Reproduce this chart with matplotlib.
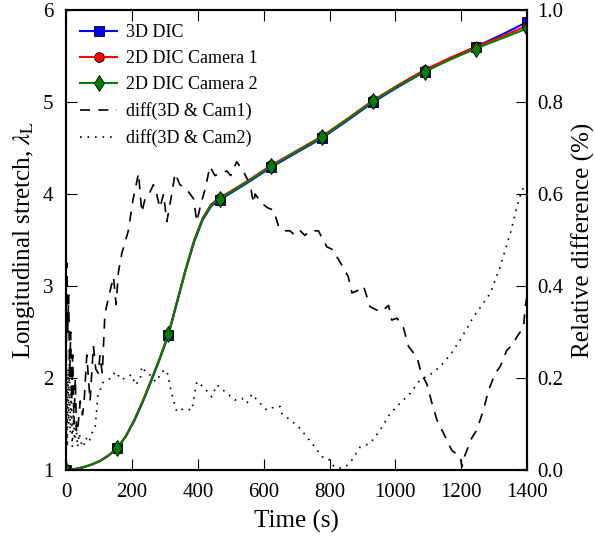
import matplotlib.pyplot as plt

plt.rcParams['font.family'] = ['Liberation Serif', 'DejaVu Serif']
plt.rcParams['mathtext.fontset'] = 'stix'

# stretch curves (left axis)
t = [0, 26, 52, 78, 104, 130, 156, 182, 208, 233, 259, 285, 311, 337, 363, 389,
     415, 441, 467, 500, 550, 622, 700, 778, 855, 933, 1011, 1089, 1166, 1244, 1322, 1400]
dic3d = [1.00, 1.01, 1.03, 1.06, 1.10, 1.16, 1.24, 1.37, 1.54, 1.74, 1.97, 2.21, 2.47, 2.82, 3.17, 3.48,
         3.72, 3.87, 3.94, 4.01, 4.12, 4.29, 4.45, 4.61, 4.80, 5.00, 5.17, 5.33, 5.47, 5.60, 5.73, 5.87]
cam1 = [1.00, 1.01, 1.03, 1.06, 1.10, 1.16, 1.24, 1.37, 1.55, 1.75, 1.98, 2.22, 2.48, 2.83, 3.18, 3.50,
        3.74, 3.89, 3.96, 4.03, 4.14, 4.31, 4.47, 4.63, 4.82, 5.02, 5.19, 5.35, 5.48, 5.60, 5.71, 5.83]
cam2 = [1.00, 1.01, 1.03, 1.06, 1.10, 1.16, 1.24, 1.37, 1.55, 1.75, 1.98, 2.22, 2.48, 2.83, 3.18, 3.49,
        3.73, 3.88, 3.95, 4.02, 4.13, 4.30, 4.46, 4.62, 4.81, 5.01, 5.18, 5.33, 5.46, 5.58, 5.69, 5.80]
marker_idx = [0, 6, 12, 18, 21, 23, 25, 27, 29, 31]

# relative differences (right axis)
t_d1 = [0, 2, 5, 8, 11, 14, 17, 20, 24, 28, 32, 37, 43, 50, 55, 63, 68, 73, 83, 90, 98, 103,
        110, 118, 134, 144, 152, 159, 169, 189, 204, 220, 230, 240, 252, 265, 275, 285, 296,
        306, 321, 331, 346, 366, 387, 397, 410, 422, 437, 452, 468, 488, 500, 518, 538, 559,
        569, 574, 594, 612, 630, 645, 660, 680, 695, 711, 725, 741, 766, 792, 807, 825, 842,
        857, 868, 885, 903, 923, 954, 964, 979, 989, 1005, 1024, 1040, 1065, 1080, 1095, 1111,
        1126, 1146, 1171, 1185, 1197, 1202, 1210, 1217, 1232, 1247, 1267, 1283, 1303, 1318,
        1338, 1358, 1369, 1389, 1394, 1400]
diff1 = [0.00, 0.45, 0.30, 0.38, 0.20, 0.30, 0.15, 0.25, 0.10, 0.20, 0.08, 0.10, 0.15, 0.12,
         0.15, 0.25, 0.20, 0.15, 0.27, 0.22, 0.21, 0.25, 0.21, 0.34, 0.39, 0.42, 0.36, 0.43,
         0.47, 0.52, 0.59, 0.645, 0.56, 0.59, 0.60, 0.62, 0.60, 0.57, 0.60, 0.54, 0.60, 0.645,
         0.62, 0.61, 0.59, 0.54, 0.58, 0.61, 0.66, 0.64, 0.645, 0.65, 0.64, 0.67, 0.65, 0.62,
         0.58, 0.60, 0.58, 0.57, 0.565, 0.53, 0.52, 0.52, 0.51, 0.52, 0.51, 0.52, 0.52, 0.485,
         0.48, 0.46, 0.44, 0.42, 0.385, 0.39, 0.40, 0.355, 0.344, 0.348, 0.358, 0.326, 0.33,
         0.31, 0.268, 0.246, 0.207, 0.188, 0.145, 0.109, 0.08, 0.043, 0.035, 0.029, 0.007,
         0.03, 0.043, 0.07, 0.087, 0.13, 0.174, 0.21, 0.225, 0.26, 0.275, 0.29, 0.31, 0.355, 0.38]

t_d2 = [0, 2, 4, 6, 8, 10, 13, 16, 19, 22, 26, 30, 35, 40, 45, 53, 60, 70, 78, 88, 93, 96,
        103, 108, 124, 139, 149, 169, 184, 200, 210, 225, 230, 245, 255, 265, 275, 290, 306,
        311, 316, 326, 336, 361, 382, 387, 397, 417, 442, 458, 488, 513, 534, 549, 564, 584,
        610, 635, 650, 655, 680, 706, 731, 751, 777, 797, 807, 827, 842, 862, 893, 923, 954,
        984, 1014, 1045, 1075, 1105, 1136, 1166, 1197, 1237, 1288, 1318, 1349, 1369, 1384, 1400]
diff2 = [0.00, 0.20, 0.05, 0.22, 0.10, 0.25, 0.08, 0.18, 0.05, 0.12, 0.065, 0.10, 0.05, 0.08,
         0.06, 0.05, 0.07, 0.06, 0.08, 0.09, 0.13, 0.16, 0.17, 0.188, 0.196, 0.20, 0.214,
         0.196, 0.203, 0.207, 0.185, 0.196, 0.225, 0.21, 0.207, 0.196, 0.192, 0.214, 0.217,
         0.199, 0.181, 0.152, 0.127, 0.134, 0.13, 0.152, 0.192, 0.181, 0.159, 0.185, 0.167,
         0.152, 0.156, 0.145, 0.165, 0.149, 0.13, 0.138, 0.138, 0.123, 0.109, 0.094, 0.072,
         0.054, 0.029, 0.025, 0.011, 0.004, 0.004, 0.015, 0.05, 0.058, 0.087, 0.123, 0.145,
         0.167, 0.196, 0.207, 0.225, 0.25, 0.283, 0.333, 0.384, 0.442, 0.515, 0.572, 0.609, 0.62]

fig = plt.figure(figsize=(5.95, 5.43), dpi=100)
ax = fig.add_axes([0.111, 0.1344, 0.775, 0.8472])
ax2 = ax.twinx()

l1, = ax.plot(t, dic3d, color='blue', lw=1.5, marker='s', ms=7, mfc='blue', mec='black',
              mew=0.6, markevery=marker_idx, label='3D DIC')
l2, = ax.plot(t, cam1, color='red', lw=1.5, marker='o', ms=7, mfc='red', mec='black',
              mew=0.6, markevery=marker_idx, label='2D DIC Camera 1')
l3, = ax.plot(t, cam2, color='green', lw=1.5, marker='d', ms=8, mfc='green', mec='black',
              mew=0.6, markevery=marker_idx, label='2D DIC Camera 2')
l4, = ax2.plot(t_d1, diff1, color='black', lw=1.2, ls=(0, (6, 5)), label='diff(3D & Cam1)')
l5, = ax2.plot(t_d2, diff2, color='black', lw=1.2, ls=(0, (1, 3.5)), label='diff(3D & Cam2)')

ax.set_zorder(ax2.get_zorder() + 1)
ax.patch.set_visible(False)

ax.set_xlim(0, 1400)
ax.set_ylim(1, 6)
ax2.set_ylim(0, 1.0)
ax.set_xticks(range(0, 1401, 200))
ax.set_yticks(range(1, 7))
ax2.set_yticks([0.0, 0.2, 0.4, 0.6, 0.8, 1.0])
ax2.set_yticklabels(['0.0', '0.2', '0.4', '0.6', '0.8', '1.0'])

ax.tick_params(axis='x', direction='in', top=True, labelsize=15, length=8, width=0.8, pad=9)
ax.tick_params(axis='y', direction='in', labelsize=15, length=8, width=0.8, pad=9)
ax2.tick_params(axis='y', direction='in', labelsize=15, length=8, width=0.8, pad=7)
for a in (ax, ax2):
    for s in a.spines.values():
        s.set_linewidth(1.5)

ax.set_xlabel('Time (s)', fontsize=18, labelpad=6)
ax.set_ylabel(r'Longitudinal stretch, $\lambda_{\rm L}$', fontsize=18, labelpad=4)
ax2.set_ylabel('Relative difference (%)', fontsize=18, labelpad=6)

ax.legend(handles=[l1, l2, l3, l4, l5], loc='upper left', frameon=False, fontsize=13,
          handlelength=2.0, handletextpad=0.5, labelspacing=0.5, borderaxespad=0.4)

fig.savefig('out.png', dpi=100)
